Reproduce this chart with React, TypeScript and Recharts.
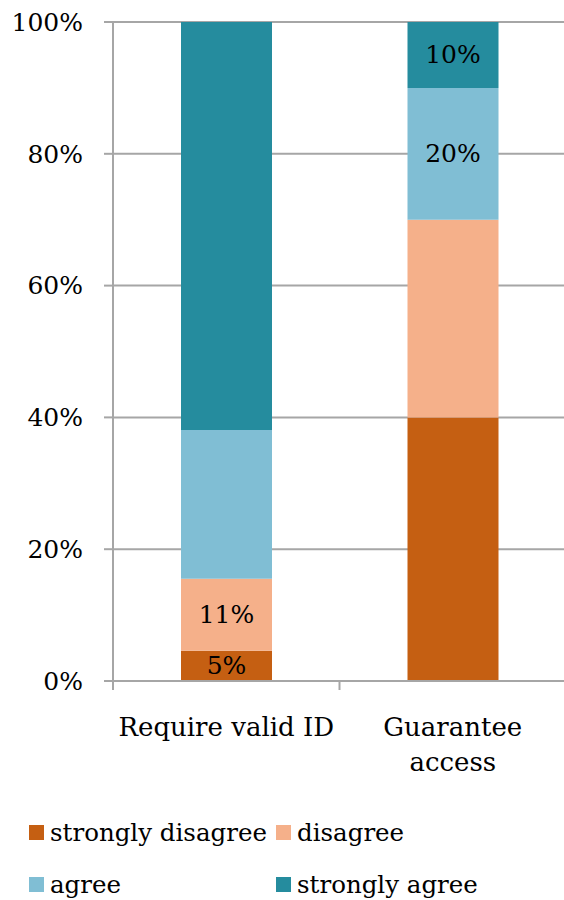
import { BarChart, Bar, XAxis, YAxis, CartesianGrid, LabelList } from 'recharts';

const categories = ['Require valid ID', 'Guarantee access'];
const categoryLines = [['Require valid ID'], ['Guarantee', 'access']];

const stronglyDisagree = [4.6, 40];
const disagree = [10.9, 30];
const agree = [22.6, 20];
const stronglyAgree = [61.9, 10];

// only some segments carry a label in the original
const stronglyDisagreeLabels = ['5%', ''];
const disagreeLabels = ['11%', ''];
const agreeLabels = ['', '20%'];
const stronglyAgreeLabels = ['', '10%'];

const yTicks = [0, 20, 40, 60, 80, 100];

const series = [
  { key: 'sd', name: 'strongly disagree', color: '#C55F12', labels: stronglyDisagreeLabels },
  { key: 'd', name: 'disagree', color: '#F5B08A', labels: disagreeLabels },
  { key: 'a', name: 'agree', color: '#80BED4', labels: agreeLabels },
  { key: 'sa', name: 'strongly agree', color: '#258C9E', labels: stronglyAgreeLabels },
];

const data = categories.map((c, i) => ({
  name: c,
  idx: i,
  sd: stronglyDisagree[i],
  d: disagree[i],
  a: agree[i],
  sa: stronglyAgree[i],
}));

const FONT = '"DejaVu Serif", serif';
const GRID = '#A6A6A6';

const CategoryTick = (props: any) => {
  const { x, y, payload } = props;
  const half = 113.25;
  const lines = categoryLines[payload.index] || [payload.value];
  return (
    <g>
      <line x1={x - half} x2={x - half} y1={y} y2={y + 9} stroke={GRID} strokeWidth={2} />
      <text x={x} y={y + 55} textAnchor="middle" fontFamily={FONT} fontSize={26} fill="#000">
        {lines.map((l: string, k: number) => (
          <tspan key={k} x={x} dy={k === 0 ? 0 : 35}>{l}</tspan>
        ))}
      </text>
    </g>
  );
};

const makeLabel = (labels: string[]) => (props: any) => {
  const { x, y, width, height, index } = props;
  const text = labels[index];
  if (!text) return null;
  return (
    <text
      x={x + width / 2}
      y={y + height / 2}
      textAnchor="middle"
      dominantBaseline="central"
      fontFamily={FONT}
      fontSize={25}
      fill="#000"
    >
      {text}
    </text>
  );
};

export default function App() {
  return (
    <div style={{ position: 'absolute', left: 0, top: 0, width: 564, height: 900, overflow: 'hidden', background: '#fff' }}>
      <BarChart
        width={572}
        height={790}
        data={data}
        margin={{ top: 22, right: 6, left: 0, bottom: 0 }}
        barSize={91}
      >
        <CartesianGrid horizontal vertical={false} stroke={GRID} strokeWidth={2} />
        <XAxis
          dataKey="name"
          height={109}
          tick={<CategoryTick />}
          tickLine={false}
          tickSize={0}
          tickMargin={0}
          axisLine={{ stroke: GRID, strokeWidth: 2 }}
          interval={0}
        />
        <YAxis
          width={113}
          domain={[0, 100]}
          ticks={yTicks}
          tickFormatter={(v: number) => `${v}%`}
          tick={{ fontFamily: FONT, fontSize: 25, fill: '#000' }}
          tickLine={{ stroke: GRID, strokeWidth: 2 }}
          tickSize={9}
          tickMargin={21}
          axisLine={{ stroke: GRID, strokeWidth: 2 }}
        />
        {series.map((s) => (
          <Bar key={s.key} dataKey={s.key} name={s.name} stackId="1" fill={s.color} isAnimationActive={false}>
            <LabelList dataKey={s.key} content={makeLabel(s.labels)} />
          </Bar>
        ))}
      </BarChart>
      <div
        style={{
          position: 'absolute',
          left: 29,
          top: 813,
          width: 540,
          display: 'grid',
          gridTemplateColumns: '247px 260px',
          rowGap: 14,
          fontFamily: FONT,
          fontSize: 24.5,
          color: '#000',
        }}
      >
        {series.map((s) => (
          <div key={s.key} style={{ display: 'flex', alignItems: 'center', height: 38, whiteSpace: 'nowrap' }}>
            <span style={{ display: 'inline-block', width: 15, height: 15, background: s.color, marginRight: 6 }} />
            <span>{s.name}</span>
          </div>
        ))}
      </div>
    </div>
  );
}
